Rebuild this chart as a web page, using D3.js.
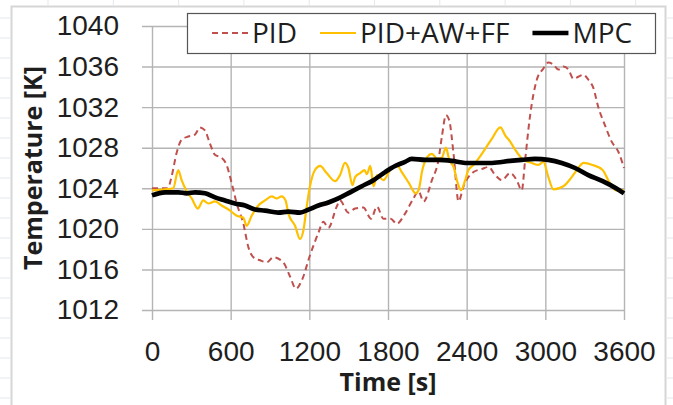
<!DOCTYPE html>
<html lang="en">
	<head>
		<meta charset="utf-8">
		<title>Temperature</title>
		<script src="https://d3js.org/d3.v7.min.js"></script>
		<style>
			body { margin: 0; background: #fff; }
			svg { display: block; font-family: "Open Sans", sans-serif; }
			.tick text { font-size: 28px; fill: #1e1e1e; }
			.grid line { stroke: #b4b4b4; stroke-width: 1.4; }
			.grid path { display: none; }
			.title { font-size: 25px; font-weight: bold; fill: #1e1e1e; }
			.leg { font-size: 28px; fill: #1e1e1e; }
		</style>
	</head>

	<body>
		<div id="vis"></div>
	</body>

	<script>
		// time [s] and temperature [K]
		var pidTime = [0, 120, 150, 188, 226, 277, 328, 366, 404, 442, 480, 531, 569, 608, 646, 697, 735, 773, 824, 875, 925, 1001, 1053, 1098, 1142, 1205, 1269, 1307, 1345, 1409, 1434, 1498, 1549, 1612, 1671, 1716, 1765, 1820, 1867, 1930, 1994, 2033, 2071, 2135, 2185, 2211, 2242, 2267, 2300, 2338, 2376, 2452, 2516, 2567, 2618, 2668, 2732, 2782, 2820, 2846, 2884, 2935, 2985, 3023, 3061, 3100, 3138, 3176, 3214, 3252, 3290, 3328, 3366, 3404, 3455, 3506, 3557, 3600];
		var pidTemp = [1024, 1024, 1025.2, 1027.5, 1028.8, 1029.1, 1029.3, 1030, 1029.7, 1028.4, 1027.3, 1027, 1026.3, 1024.5, 1022.5, 1020.5, 1018.2, 1017.2, 1016.9, 1016.7, 1017.2, 1016.7, 1015.3, 1014.1, 1014.9, 1017.4, 1019.6, 1020.7, 1020.1, 1022.2, 1022.8, 1021.6, 1022.0, 1022.1, 1021.0, 1022.2, 1021.0, 1021.0, 1020.5, 1021.5, 1023.0, 1023.7, 1022.7, 1024.8, 1026.8, 1029.1, 1031.2, 1030.7, 1027.4, 1022.7, 1024.2, 1025.6, 1025.9, 1026.1, 1025.3, 1024.8, 1025.5, 1024.8, 1023.8, 1026.8, 1031.2, 1034.7, 1035.8, 1036.4, 1036.2, 1035.7, 1036.0, 1035.7, 1034.8, 1035.0, 1035.2, 1034.7, 1033.9, 1032.0, 1030.2, 1028.6, 1027.6, 1026];

		var awTime = [0, 99, 162, 200, 226, 265, 303, 349, 391, 430, 481, 531, 595, 646, 697, 722, 760, 811, 862, 913, 951, 989, 1019, 1040, 1091, 1129, 1154, 1180, 1205, 1243, 1282, 1332, 1396, 1434, 1472, 1498, 1529, 1549, 1588, 1621, 1639, 1665, 1690, 1716, 1765, 1816, 1867, 1905, 1960, 2011, 2033, 2062, 2100, 2135, 2176, 2210, 2242, 2267, 2300, 2332, 2357, 2389, 2413, 2452, 2516, 2593, 2657, 2695, 2732, 2770, 2832, 2896, 2947, 2985, 3023, 3061, 3138, 3201, 3252, 3290, 3360, 3437, 3488, 3539, 3600];
		var awTemp = [1023.8, 1023.9, 1024, 1025.8, 1024.8, 1023.7, 1023, 1022, 1022.8, 1022.5, 1022.7, 1022.3, 1021.8, 1021.3, 1021.1, 1020.3, 1021.3, 1022.3, 1022.8, 1023.2, 1023.0, 1023.2, 1022.8, 1021.5, 1020.3, 1019, 1019.8, 1022.2, 1024.2, 1025.8, 1026.2, 1025.5, 1024.7, 1025.3, 1026.5, 1026, 1024.3, 1025.1, 1025.5, 1025.8, 1025.4, 1026.2, 1024.2, 1025.3, 1024.8, 1025.8, 1026.3, 1025.6, 1024.5, 1023.5, 1023.8, 1025.8, 1027.1, 1027.4, 1026.9, 1027.0, 1028, 1026.8, 1026.1, 1024.5, 1023.8, 1024.8, 1025.8, 1026.3, 1027.4, 1028.9, 1030, 1029.2, 1028.6, 1027.8, 1026.8, 1026.5, 1026.3, 1026.6, 1025.1, 1023.9, 1024.2, 1025.1, 1026, 1026.5, 1026.3, 1025.8, 1024.6, 1023.8, 1023.8];

		var mpcTime = [0, 99, 200, 265, 328, 404, 481, 557, 633, 710, 786, 862, 964, 1040, 1129, 1193, 1269, 1345, 1421, 1511, 1600, 1689, 1778, 1854, 1930, 1981, 2083, 2185, 2287, 2389, 2491, 2593, 2732, 2820, 2922, 3023, 3125, 3227, 3328, 3437, 3539, 3600];
		var mpcTemp = [1023.3, 1023.6, 1023.6, 1023.5, 1023.6, 1023.5, 1023.1, 1022.8, 1022.5, 1022.3, 1021.9, 1021.8, 1021.6, 1021.7, 1021.6, 1021.9, 1022.3, 1022.6, 1023, 1023.6, 1024.2, 1024.8, 1025.6, 1026.2, 1026.6, 1026.9, 1026.8, 1026.8, 1026.7, 1026.5, 1026.5, 1026.5, 1026.7, 1026.8, 1026.9, 1026.8, 1026.5, 1026, 1025.3, 1024.7, 1024, 1023.5];

		var seriesNames = ["PID", "PID+AW+FF", "MPC"];
		var xTicks = [0, 600, 1200, 1800, 2400, 3000, 3600];
		var yTicks = [1012, 1016, 1020, 1024, 1028, 1032, 1036, 1040];

		var W = 673, H = 405;
		var margin = { left: 152, right: 49, top: 26, bottom: 95 };
		var width = W - margin.left - margin.right;
		var height = H - margin.top - margin.bottom;
		var ext = 10; // gridlines run past the plot edge

		var svg = d3.select("#vis").append("svg")
			.attr("width", W)
			.attr("height", H);

		// spreadsheet cells behind the chart
		var cells = svg.append("g").attr("stroke", "#e3e8ee").attr("stroke-width", 1);
		for (var cx = 48; cx < W; cx += 65.3) {
			cells.append("line").attr("x1", cx).attr("x2", cx).attr("y1", 0).attr("y2", 5);
		}
		for (var cy = 18; cy < H; cy += 20) {
			cells.append("line").attr("x1", 0).attr("x2", 10).attr("y1", cy).attr("y2", cy);
			cells.append("line").attr("x1", 667).attr("x2", W).attr("y1", cy).attr("y2", cy);
		}
		svg.append("rect")
			.attr("x", 11.5).attr("y", 6.5)
			.attr("width", 654).attr("height", H)
			.attr("fill", "#fff")
			.attr("stroke", "#d6d6d6")
			.attr("stroke-width", 2);

		var x = d3.scaleLinear().domain([0, 3600]).range([0, width]);
		var y = d3.scaleLinear().domain([1012, 1040]).range([height, 0]);

		var g = svg.append("g")
			.attr("transform", "translate(" + margin.left + "," + margin.top + ")");

		g.append("g")
			.attr("class", "grid")
			.attr("transform", "translate(" + (-ext) + ",0)")
			.call(d3.axisLeft(y).tickValues(yTicks).tickFormat(d3.format("d"))
				.tickSize(-(width + ext)).tickPadding(23));

		g.append("g")
			.attr("class", "grid")
			.attr("transform", "translate(0," + (height + ext) + ")")
			.call(d3.axisBottom(x).tickValues(xTicks).tickFormat(d3.format("d"))
				.tickSize(-(height + ext)).tickPadding(21));

		var line = d3.line()
			.curve(d3.curveMonotoneX)
			.x(function(d){ return x(d[0]); })
			.y(function(d){ return y(d[1]); });

		var series = [
			{ name: seriesNames[0], data: d3.zip(pidTime, pidTemp), color: "#c0504d", w: 2, dash: "6,4" },
			{ name: seriesNames[1], data: d3.zip(awTime, awTemp), color: "#ffc000", w: 2.2, dash: null },
			{ name: seriesNames[2], data: d3.zip(mpcTime, mpcTemp), color: "#000", w: 4.6, dash: null }
		];

		series.forEach(function(s){
			g.append("path")
				.attr("d", line(s.data))
				.attr("fill", "none")
				.attr("stroke", s.color)
				.attr("stroke-width", s.w)
				.attr("stroke-dasharray", s.dash)
				.attr("stroke-linejoin", "round");
		});

		// axis titles
		svg.append("text")
			.attr("class", "title")
			.attr("transform", "translate(42," + (margin.top + height / 2) + ") rotate(-90)")
			.attr("text-anchor", "middle")
			.text("Temperature [K]");

		svg.append("text")
			.attr("class", "title")
			.attr("x", margin.left + width / 2)
			.attr("y", 391)
			.attr("text-anchor", "middle")
			.text("Time [s]");

		// legend
		var leg = svg.append("g");
		leg.append("rect")
			.attr("x", 187.5).attr("y", 13.5)
			.attr("width", 468).attr("height", 40)
			.attr("fill", "#fff")
			.attr("stroke", "#555")
			.attr("stroke-width", 1.2);

		var lx = 212;
		series.forEach(function(s){
			leg.append("line")
				.attr("x1", lx).attr("x2", lx + 36)
				.attr("y1", 33).attr("y2", 33)
				.attr("stroke", s.color)
				.attr("stroke-width", s.w)
				.attr("stroke-dasharray", s.dash);
			var t = leg.append("text")
				.attr("class", "leg")
				.attr("x", lx + 40)
				.attr("y", 43)
				.text(s.name);
			lx = lx + 40 + t.node().getComputedTextLength() + 23;
		});
	</script>
</html>
